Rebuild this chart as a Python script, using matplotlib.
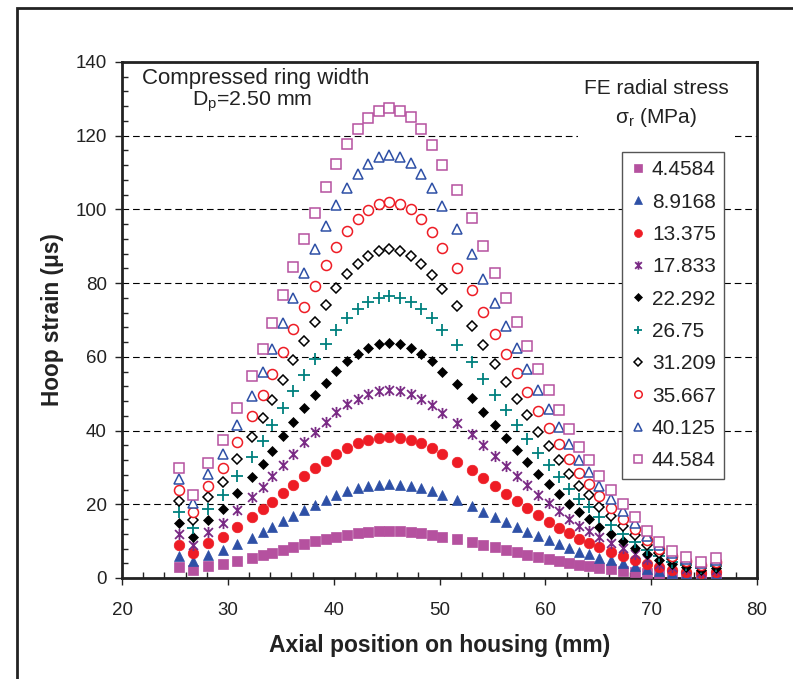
import matplotlib
matplotlib.use("Agg")
import matplotlib.pyplot as plt
from matplotlib.path import Path
from matplotlib.patches import Rectangle
from matplotlib.ticker import MultipleLocator

plt.rcParams['font.family'] = ['Liberation Sans', 'DejaVu Sans']
plt.rcParams['mathtext.fontset'] = 'custom'
plt.rcParams['mathtext.rm'] = 'Liberation Sans'
plt.rcParams['mathtext.it'] = 'Liberation Sans'

# ---------------- data ----------------
x_pos = [25.4, 26.7, 28.15, 29.5, 30.9, 32.3, 33.3, 34.2, 35.24, 36.2, 37.2, 38.24,
         39.25, 40.22, 41.29, 42.27, 43.27, 44.28, 45.26, 46.27, 47.28, 48.25, 49.26,
         50.27, 51.68, 53.1, 54.14, 55.25, 56.25, 57.3, 58.3, 59.34, 60.35, 61.32,
         62.27, 63.21, 64.13, 65.07, 66.18, 67.37, 68.47, 69.64, 70.74, 71.94, 73.26,
         74.71, 76.1]

s_4_4584 = [2.98, 2.25, 3.13, 3.74, 4.62, 5.48, 6.20, 6.91, 7.68, 8.44, 9.20, 9.91, 10.60,
            11.23, 11.77, 12.17, 12.49, 12.68, 12.74, 12.68, 12.50, 12.17, 11.75, 11.20,
            10.53, 9.76, 9.02, 8.28, 7.59, 6.94, 6.30, 5.66, 5.10, 4.56, 4.03, 3.56, 3.20,
            2.77, 2.39, 2.01, 1.65, 1.28, 0.98, 0.74, 0.58, 0.44, 0.53]
s_8_9168 = [5.96, 4.5, 6.26, 7.48, 9.24, 10.96, 12.4, 13.82, 15.36, 16.88, 18.4, 19.82, 21.2,
            22.46, 23.54, 24.34, 24.98, 25.36, 25.48, 25.36, 25.0, 24.34, 23.5, 22.4, 21.06,
            19.52, 18.04, 16.56, 15.18, 13.88, 12.6, 11.32, 10.2, 9.12, 8.06, 7.12, 6.4,
            5.54, 4.78, 4.02, 3.3, 2.56, 1.96, 1.48, 1.16, 0.88, 1.06]
s_13_375 = [8.94, 6.75, 9.39, 11.22, 13.86, 16.44, 18.6, 20.73, 23.04, 25.32, 27.6, 29.73,
            31.8, 33.69, 35.31, 36.51, 37.47, 38.04, 38.22, 38.04, 37.5, 36.51, 35.25, 33.6,
            31.59, 29.28, 27.06, 24.84, 22.77, 20.82, 18.9, 16.98, 15.3, 13.68, 12.09,
            10.68, 9.6, 8.31, 7.17, 6.03, 4.95, 3.84, 2.94, 2.22, 1.74, 1.32, 1.59]
s_17_833 = [11.92, 9.0, 12.52, 14.96, 18.48, 21.92, 24.8, 27.64, 30.72, 33.76, 36.8, 39.64,
            42.4, 44.92, 47.08, 48.68, 49.96, 50.72, 50.96, 50.72, 50.0, 48.68, 47.0, 44.8,
            42.12, 39.04, 36.08, 33.12, 30.36, 27.76, 25.2, 22.64, 20.4, 18.24, 16.12,
            14.24, 12.8, 11.08, 9.56, 8.04, 6.6, 5.12, 3.92, 2.96, 2.32, 1.76, 2.12]
s_22_292 = [14.9, 11.25, 15.65, 18.7, 23.1, 27.4, 31.0, 34.55, 38.4, 42.2, 46.0, 49.55, 53.0,
            56.15, 58.85, 60.85, 62.45, 63.4, 63.7, 63.4, 62.5, 60.85, 58.75, 56.0, 52.65,
            48.8, 45.1, 41.4, 37.95, 34.7, 31.5, 28.3, 25.5, 22.8, 20.15, 17.8, 16.0, 13.85,
            11.95, 10.05, 8.25, 6.4, 4.9, 3.7, 2.9, 2.2, 2.65]
s_26_75 = [17.88, 13.5, 18.78, 22.44, 27.72, 32.88, 37.2, 41.46, 46.08, 50.64, 55.2, 59.46,
           63.6, 67.38, 70.62, 73.02, 74.94, 76.08, 76.44, 76.08, 75.0, 73.02, 70.5, 67.2,
           63.18, 58.56, 54.12, 49.68, 45.54, 41.64, 37.8, 33.96, 30.6, 27.36, 24.18, 21.36,
           19.2, 16.62, 14.34, 12.06, 9.9, 7.68, 5.88, 4.44, 3.48, 2.64, 3.18]
s_31_209 = [20.86, 15.75, 21.91, 26.18, 32.34, 38.36, 43.4, 48.37, 53.76, 59.08, 64.4, 69.37,
            74.2, 78.61, 82.39, 85.19, 87.43, 88.76, 89.18, 88.76, 87.5, 85.19, 82.25, 78.4,
            73.71, 68.32, 63.14, 57.96, 53.13, 48.58, 44.1, 39.62, 35.7, 31.92, 28.21, 24.92,
            22.4, 19.39, 16.73, 14.07, 11.55, 8.96, 6.86, 5.18, 4.06, 3.08, 3.71]
s_35_667 = [23.84, 18.0, 25.04, 29.92, 36.96, 43.84, 49.6, 55.28, 61.44, 67.52, 73.6, 79.28,
            84.8, 89.84, 94.16, 97.36, 99.92, 101.44, 101.92, 101.44, 100.0, 97.36, 94.0,
            89.6, 84.24, 78.08, 72.16, 66.24, 60.72, 55.52, 50.4, 45.28, 40.8, 36.48, 32.24,
            28.48, 25.6, 22.16, 19.12, 16.08, 13.2, 10.24, 7.84, 5.92, 4.64, 3.52, 4.24]
s_40_125 = [26.82, 20.25, 28.17, 33.66, 41.58, 49.32, 55.8, 62.19, 69.12, 75.96, 82.8, 89.19,
            95.4, 101.07, 105.93, 109.53, 112.41, 114.12, 114.66, 114.12, 112.5, 109.53,
            105.75, 100.8, 94.77, 87.84, 81.18, 74.52, 68.31, 62.46, 56.7, 50.94, 45.9, 41.04,
            36.27, 32.04, 28.8, 24.93, 21.51, 18.09, 14.85, 11.52, 8.82, 6.66, 5.22, 3.96, 4.77]
s_44_584 = [29.8, 22.5, 31.3, 37.4, 46.2, 54.8, 62.0, 69.1, 76.8, 84.4, 92.0, 99.1, 106.0,
            112.3, 117.7, 121.7, 124.9, 126.8, 127.4, 126.8, 125.0, 121.7, 117.5, 112.0,
            105.3, 97.6, 90.2, 82.8, 75.9, 69.4, 63.0, 56.6, 51.0, 45.6, 40.3, 35.6, 32.0,
            27.7, 23.9, 20.1, 16.5, 12.8, 9.8, 7.4, 5.8, 4.4, 5.3]

labels = ['4.4584', '8.9168', '13.375', '17.833', '22.292', '26.75', '31.209',
          '35.667', '40.125', '44.584']
series = [s_4_4584, s_8_9168, s_13_375, s_17_833, s_22_292, s_26_75, s_31_209,
          s_35_667, s_40_125, s_44_584]

# ---------------- styles ----------------
MAG = '#B5519F'
BLUE = '#2E50A6'
RED = '#EE1C25'
PURP = '#7A2B85'
TEAL = '#00807E'
INK = '#222222'
star = Path([(-0.8, -0.8), (0.8, 0.8), (-0.8, 0.8), (0.8, -0.8), (0, -1), (0, 1)],
            [Path.MOVETO, Path.LINETO] * 3)

styles = [
    dict(marker='s', ms=7.6, mfc=MAG, mec=MAG, mew=0.5),
    dict(marker='^', ms=7.8, mfc=BLUE, mec=BLUE, mew=0.5),
    dict(marker='o', ms=7.6, mfc=RED, mec=RED, mew=0.5),
    dict(marker=star, ms=8.0, mfc='none', mec=PURP, mew=1.3),
    dict(marker='D', ms=5.6, mfc='black', mec='black', mew=0.5),
    dict(marker='+', ms=8.0, mfc='none', mec=TEAL, mew=1.3),
    dict(marker='D', ms=5.2, mfc='white', mec='black', mew=1.1),
    dict(marker='o', ms=7.2, mfc='white', mec=RED, mew=1.1),
    dict(marker='^', ms=7.6, mfc='white', mec=BLUE, mew=1.1),
    dict(marker='s', ms=7.2, mfc='white', mec=MAG, mew=1.1),
]

fig = plt.figure(figsize=(7.93, 6.79), dpi=100)
ax = fig.add_axes([122 / 793, 1 - 578 / 679, 635 / 793, 516 / 679])

for ys, lab, st in zip(series, labels, styles):
    ax.plot(x_pos, ys, linestyle='none', label=lab, zorder=3, **st)

ax.set_xlim(20, 80)
ax.set_ylim(0, 140)
ax.xaxis.set_major_locator(MultipleLocator(10))
ax.xaxis.set_minor_locator(MultipleLocator(2))
ax.yaxis.set_major_locator(MultipleLocator(20))
ax.yaxis.set_minor_locator(MultipleLocator(4))
ax.tick_params(axis='both', which='major', direction='out', length=5, width=1.0,
               labelsize=13.5, colors=INK)
ax.tick_params(axis='x', which='major', pad=12)
ax.tick_params(axis='y', which='major', pad=6)
ax.tick_params(axis='both', which='minor', direction='in', length=4, width=1.0,
               color=INK)
for sp in ax.spines.values():
    sp.set_linewidth(2.0)
    sp.set_color(INK)

ax.grid(axis='y', which='major', color='black', linewidth=0.8, linestyle=(0, (6, 3.5)))
ax.set_axisbelow(True)

ax.set_xlabel('Axial position on housing (mm)', fontsize=16.5, fontweight='bold',
              color=INK)
ax.xaxis.set_label_coords(0.5, -0.108)
ax.set_ylabel('Hoop strain (\u03bcs)', fontsize=16.3, fontweight='bold', color=INK)
ax.yaxis.set_label_coords(-0.092, 0.5)

# annotations
ax.text(32.6, 135.4, 'Compressed ring width', fontsize=16, ha='center', va='center',
        color=INK)
ax.text(32.3, 129.2, 'D$_\\mathregular{p}$=2.50 mm', fontsize=15.3, ha='center',
        va='center', color=INK)
ax.add_patch(Rectangle((0.718, 0.849), 0.247, 0.14, transform=ax.transAxes,
                       facecolor='white', edgecolor='none', zorder=1))
ax.text(70.5, 132.9, 'FE radial stress', fontsize=15, ha='center', va='center',
        color=INK, zorder=2)
ax.text(70.4, 124.9, '\u03c3$_\\mathregular{r}$ (MPa)', fontsize=15, ha='center',
        va='center', color=INK, zorder=2)

leg = ax.legend(loc='upper left', bbox_to_anchor=(0.787, 0.8256), borderaxespad=0,
                fontsize=15, markerscale=0.75, handlelength=0.8, handletextpad=0.25,
                labelspacing=0.64, borderpad=0.4, fancybox=False, framealpha=1,
                edgecolor='#555555')
leg.get_frame().set_linewidth(1.0)
for t in leg.get_texts():
    t.set_color(INK)
leg.set_zorder(5)

# outer frame of the figure
fig.add_artist(Rectangle((17 / 793, -0.2), 1.2, 1.2 - 8 / 679,
                         transform=fig.transFigure, facecolor='none',
                         edgecolor=INK, linewidth=2.0, clip_on=False))

fig.savefig('out.png', dpi=100)
